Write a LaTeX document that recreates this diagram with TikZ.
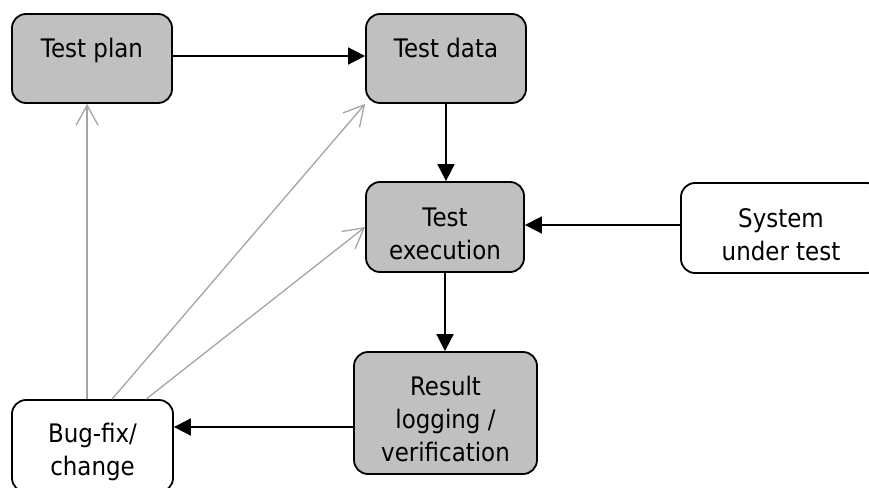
\documentclass[tikz,border=0pt]{standalone}
\usepackage{fontspec}
\setmainfont{DejaVu Sans}[FakeStretch=0.9]
\usetikzlibrary{arrows.meta,calc}
\definecolor{boxgrey}{HTML}{C0C0C0}
\definecolor{linegrey}{HTML}{A4A4A4}
% extra room above the first text line, so labels sit a little lower
\newcommand\lblgap{\rule{0pt}{32pt}}

\begin{document}
\begin{tikzpicture}[x=1pt,y=-1pt,
  box/.style={draw=black, line width=1.8pt, rounded corners=14pt, inner sep=0pt,
    align=center, text=black, font=\fontsize{25.5}{33}\selectfont},
  shaded/.style={box, fill=boxgrey},
  plain/.style={box, fill=white},
  flow/.style={draw=black, line width=1.8pt, -{Triangle[length=17pt,width=17pt]}},
  back/.style={draw=linegrey, line width=1.3pt,
    -{Straight Barb[length=20pt,width=22pt,line width=1.3pt]}}]

\useasboundingbox (0,0) rectangle (869,487);
\clip (0,0) rectangle (869,487);

% process boxes
\node[shaded, minimum width=160pt, minimum height=89pt] (plan) at (92,58.5) {\lblgap Test plan\\\phantom{x}};
\node[shaded, minimum width=160pt, minimum height=89pt] (data) at (446,58.5) {\lblgap Test data\\\phantom{x}};
\node[shaded, minimum width=158pt, minimum height=90pt] (exec) at (445,227) {\lblgap Test\\execution};
\node[plain, minimum width=200pt, minimum height=90pt] (sut) at (781,228) {\lblgap System\\under test};
\node[shaded, minimum width=183pt, minimum height=122pt] (result) at (445.5,413) {\lblgap Result\\logging /\\verification};
\node[plain, minimum width=161pt, minimum height=92pt] (bug) at (92.5,446) {\lblgap Bug-fix/\\change};

% main flow
\draw[flow] (plan.east |- 0,56) -- (data.west |- 0,56);
\draw[flow] (data.south) -- (data.south |- exec.north);
\draw[flow] (sut.west |- 0,225) -- (exec.east |- 0,225);
\draw[flow] (exec.south) -- (exec.south |- result.north);
\draw[flow] (result.west |- 0,427) -- (bug.east |- 0,427);

% feedback from bug-fix
\coordinate (b1) at ($(bug.north west)+(76,0)$);
\coordinate (b2) at ($(bug.north west)+(101,0)$);
\coordinate (b3) at ($(bug.north west)+(135,0)$);
\draw[back] (b1) -- (b1 |- plan.south);
\draw[back] (b2) -- (data.south west);
\draw[back] (b3) -- (exec.west);
\end{tikzpicture}
\end{document}
